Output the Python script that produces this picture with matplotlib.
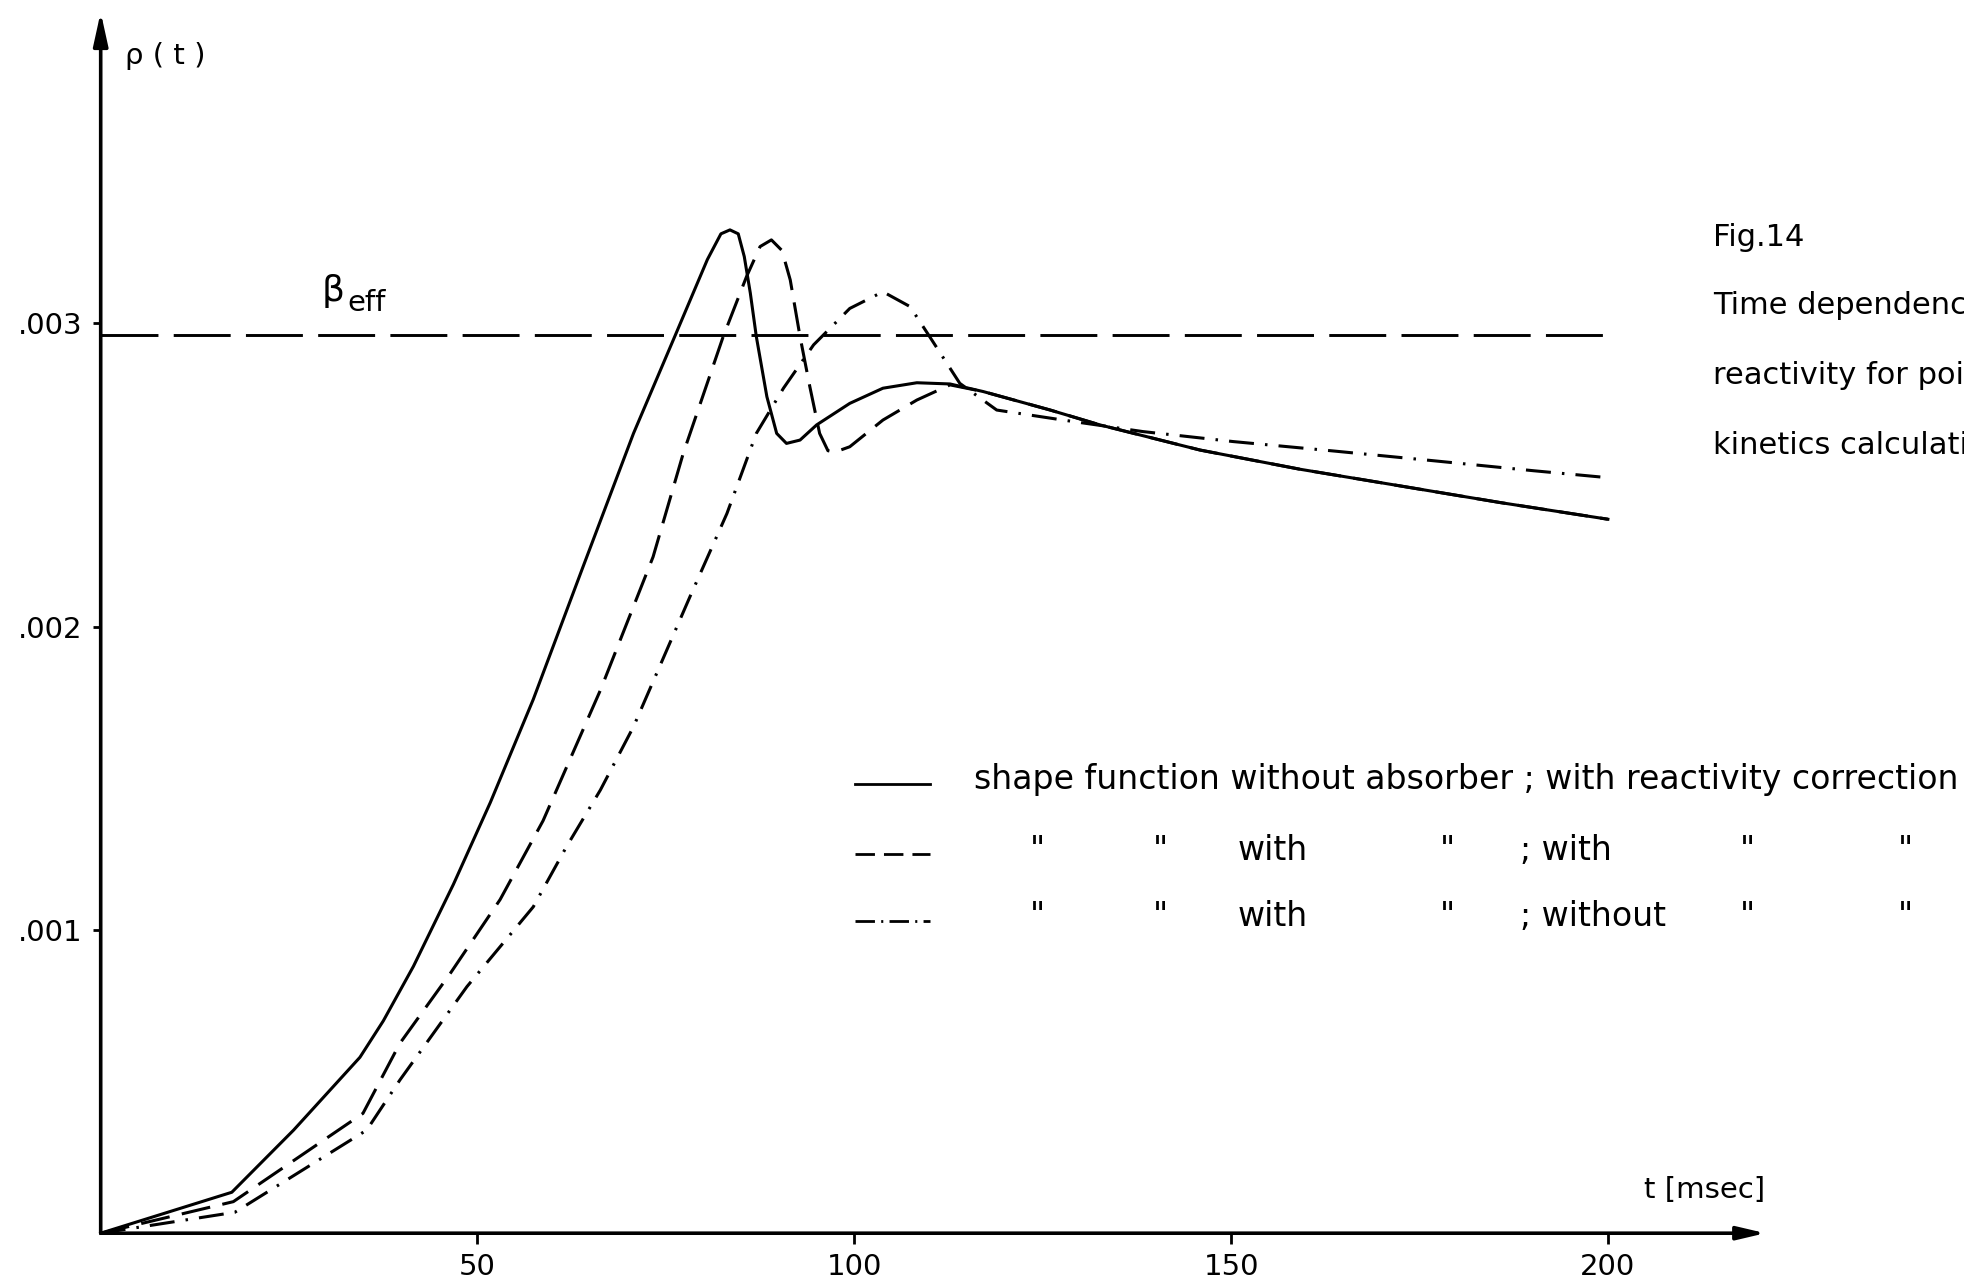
import matplotlib
matplotlib.use("Agg")
import matplotlib.pyplot as plt
from matplotlib.lines import Line2D

plt.rcParams['font.family'] = ['DejaVu Sans']
plt.rcParams['lines.scale_dashes'] = False

# ---------------- data ----------------
t_solid = [0, 17.4, 25.6, 34.4, 37.5, 41.5, 46.8, 51.7, 57.4, 64.0, 70.7, 76.2,
           80.5, 82.3, 83.5, 84.6, 85.4, 86.2, 87.0, 88.4, 89.7, 91.0, 92.8, 95.0,
           99.4, 103.8, 108.3, 112.7, 117.1, 126.0, 132.6, 145.9, 159.1, 172.4,
           185.7, 200.0]
rho_solid = [0, 0.000135, 0.000340, 0.000580, 0.000700, 0.000880, 0.001150,
             0.001420, 0.001760, 0.002197, 0.002637, 0.002958, 0.003210,
             0.003295, 0.003308, 0.003295, 0.003220, 0.003100, 0.002956,
             0.002758, 0.002637, 0.002604, 0.002615, 0.002665, 0.002736,
             0.002786, 0.002804, 0.002800, 0.002775, 0.002714, 0.002665,
             0.002582, 0.002519, 0.002464, 0.002409, 0.002354]

t_dashed = [0, 17.6, 34.8, 39.7, 46.4, 53.0, 58.7, 66.3, 73.3, 77.3, 82.6, 85.7,
            87.5, 89.0, 90.4, 91.5, 92.8, 94.1, 95.4, 96.5, 97.4, 99.4, 103.8,
            108.3, 112.7, 117.1, 126.0, 132.6, 145.9, 159.1, 172.4, 185.7, 200.0]
rho_dashed = [0, 0.000104, 0.000395, 0.000626, 0.000857, 0.001100, 0.001360,
              0.001790, 0.002230, 0.002571, 0.002956, 0.003154, 0.003253,
              0.003275, 0.003240, 0.003143, 0.002956, 0.002791, 0.002637,
              0.002580, 0.002575, 0.002593, 0.002681, 0.002747, 0.002797,
              0.002775, 0.002714, 0.002665, 0.002582, 0.002519, 0.002464,
              0.002409, 0.002354]

t_dashdot = [0, 17.8, 35.3, 39.7, 48.6, 57.4, 61.8, 66.3, 70.7, 78.2, 83.1, 87.0,
             90.6, 94.6, 99.4, 103.8, 107.4, 110.0, 114.0, 118.9, 127.7, 138.3,
             150.3, 163.6, 176.8, 190.1, 200.0]
rho_dashdot = [0, 0.000069, 0.000340, 0.000505, 0.000813, 0.001076, 0.001274,
               0.001461, 0.001670, 0.002099, 0.002373, 0.002637, 0.002786,
               0.002929, 0.003049, 0.003104, 0.003055, 0.002956, 0.002802,
               0.002714, 0.002681, 0.002643, 0.002610, 0.002579, 0.002547,
               0.002514, 0.002491]

beta_eff = 0.00296
t_beta = [0, 200]

x_ticks = [50, 100, 150, 200]
x_tick_labels = ['50', '100', '150', '200']
y_ticks = [0.001, 0.002, 0.003]
y_tick_labels = ['.001', '.002', '.003']

t_axis_end = 220.9
rho_axis_end = 0.004026

# ---------------- layout ----------------
W, H = 1965, 1284
fig = plt.figure(figsize=(W / 100, H / 100), dpi=100)
fig.patch.set_facecolor('white')

x0_px, y0_px_bottom = 100.7, H - 1233.2
px_per_t = 7.536
px_per_rho = 303300.0

ax = fig.add_axes([0, 0, 1, 1])
ax.set_xlim(-x0_px / px_per_t, (W - x0_px) / px_per_t)
ax.set_ylim(-y0_px_bottom / px_per_rho, (H - y0_px_bottom) / px_per_rho)
ax.patch.set_alpha(0)

for s in ['top', 'right', 'left', 'bottom']:
    ax.spines[s].set_visible(False)
ax.spines['left'].set_position(('data', 0))
ax.spines['bottom'].set_position(('data', 0))

ax.set_xticks(x_ticks)
ax.set_xticklabels(x_tick_labels)
ax.set_yticks(y_ticks)
ax.set_yticklabels(y_tick_labels)
ax.tick_params(axis='x', direction='out', length=8, width=2.0, labelsize=21, pad=6)
ax.tick_params(axis='y', direction='out', length=6, width=2.0, labelsize=21, pad=7)

# axes with arrows
ax.annotate('', xy=(t_axis_end, 0), xytext=(0, 0),
            arrowprops=dict(arrowstyle='-|>,head_length=0.85,head_width=0.2',
                            lw=2.6, color='black', shrinkA=0, shrinkB=0,
                            mutation_scale=20))
ax.annotate('', xy=(0, rho_axis_end), xytext=(0, 0),
            arrowprops=dict(arrowstyle='-|>,head_length=1.0,head_width=0.22',
                            lw=2.6, color='black', shrinkA=0, shrinkB=0,
                            mutation_scale=20))

# beta_eff line
ax.plot(t_beta, [beta_eff, beta_eff], color='black', lw=2.1,
        dashes=(41, 11), solid_capstyle='butt', dash_capstyle='butt')

# curves
ax.plot(t_solid, rho_solid, color='black', lw=2.2, solid_joinstyle='round')
ax.plot(t_dashed, rho_dashed, color='black', lw=2.2, dashes=(21, 9),
        dash_joinstyle='round')
ax.plot(t_dashdot, rho_dashdot, color='black', lw=2.2,
        dashes=(18, 8, 1.8, 8), dash_joinstyle='round')

# ---------------- texts ----------------
def fx(px):
    return px / W


def fy(py):
    return 1 - py / H


fig.text(fx(125), fy(56), 'ρ ( t )', fontsize=21, va='center', ha='left')
fig.text(fx(322), fy(291), 'β', fontsize=26, va='center', ha='left')
fig.text(fx(347), fy(303), 'eff', fontsize=21, va='center', ha='left')
fig.text(fx(1765), fy(1190), 't [msec]', fontsize=21, va='center', ha='right')

fig.text(fx(1713), fy(237), 'Fig.14', fontsize=22, va='center', ha='left')
fig.text(fx(1713), fy(306), 'Time dependence of the', fontsize=22, va='center', ha='left')
fig.text(fx(1713), fy(376), 'reactivity for point', fontsize=22, va='center', ha='left')
fig.text(fx(1713), fy(445), 'kinetics calculations', fontsize=22, va='center', ha='left')

# legend
row_y = [780, 850, 917]
sample_x = (855, 930)
styles = [dict(), dict(dashes=(14, 6.5)), dict(dashes=(14, 4.5, 1.5, 4.5))]
for ry, st in zip(row_y, styles):
    fig.add_artist(Line2D([fx(sample_x[0]), fx(sample_x[1])], [fy(ry + 4), fy(ry + 4)],
                          transform=fig.transFigure, color='black', lw=2.0, **st))

legend_fs = 23.9
fig.text(fx(974), fy(row_y[0]),
         'shape function without absorber ; with reactivity correction',
         fontsize=legend_fs, va='center', ha='left')

row2 = [(1030, '"'), (1153, '"'), (1238, 'with'), (1440, '"'), (1520, '; with'),
        (1740, '"'), (1898, '"')]
row3 = [(1030, '"'), (1153, '"'), (1238, 'with'), (1440, '"'), (1520, '; without'),
        (1740, '"'), (1898, '"')]
for x, s in row2:
    fig.text(fx(x), fy(row_y[1]), s, fontsize=legend_fs, va='center', ha='left')
for x, s in row3:
    fig.text(fx(x), fy(row_y[2]), s, fontsize=legend_fs, va='center', ha='left')

fig.savefig('out.png', dpi=100, facecolor='white')
